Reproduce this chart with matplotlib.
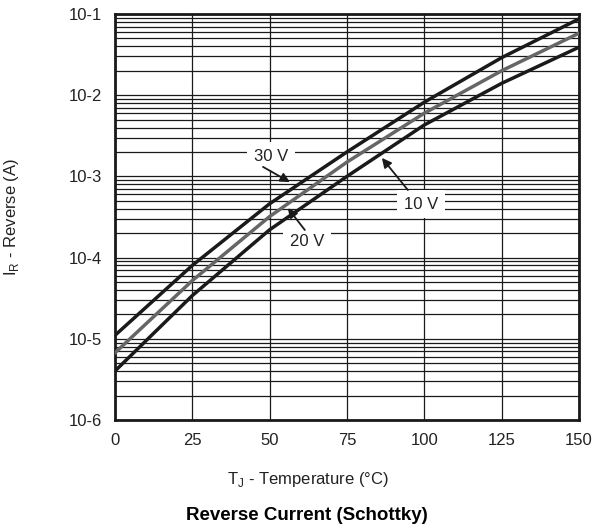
import matplotlib
matplotlib.use("Agg")
import matplotlib.pyplot as plt
import numpy as np
from matplotlib.ticker import LogLocator, NullFormatter, FixedLocator

plt.rcParams['font.family'] = ['Liberation Sans', 'DejaVu Sans']

# junction temperature (C) and reverse current (A)
temps = [0, 25, 50, 75, 100, 125, 150]
ir_30v = [1.1e-5, 8.0e-5, 4.6e-4, 2.0e-3, 8.2e-3, 2.9e-2, 8.7e-2]
ir_20v = [6.7e-6, 5.2e-5, 3.2e-4, 1.5e-3, 6.0e-3, 2.0e-2, 5.8e-2]
ir_10v = [4.0e-6, 3.4e-5, 2.2e-4, 1.0e-3, 4.3e-3, 1.4e-2, 3.9e-2]

xticks = [0, 25, 50, 75, 100, 125, 150]
yticks = [1e-6, 1e-5, 1e-4, 1e-3, 1e-2, 1e-1]
ytick_labels = ['10-6', '10-5', '10-4', '10-3', '10-2', '10-1']

fig = plt.figure(figsize=(5.92, 5.29), dpi=100)
ax = fig.add_axes([0.194, 0.206, 0.784, 0.7675])

ax.set_yscale('log')
ax.set_xlim(0, 150)
ax.set_ylim(1e-6, 1e-1)

# grid: every decade sub-division, and every 25 C
ax.yaxis.set_major_locator(FixedLocator(yticks))
ax.yaxis.set_minor_locator(LogLocator(base=10, subs=np.arange(2, 10)))
ax.yaxis.set_minor_formatter(NullFormatter())
ax.set_yticks(yticks)
ax.set_yticklabels(ytick_labels)
ax.set_xticks(xticks)
ax.grid(True, which='both', axis='y', color='#1a1a1a', lw=0.9)
ax.grid(True, which='major', axis='x', color='#1a1a1a', lw=0.9)
ax.tick_params(which='both', length=0, labelsize=12, pad=9, colors='#222222')
for sp in ax.spines.values():
    sp.set_linewidth(2.0)
    sp.set_color('#1a1a1a')

ax.plot(temps, ir_30v, color='#1a1a1a', lw=2.5, zorder=3)
ax.plot(temps, ir_20v, color='#666666', lw=2.5, zorder=3)
ax.plot(temps, ir_10v, color='#1a1a1a', lw=2.5, zorder=3)

# curve labels, white boxes hide the grid behind them
box = dict(boxstyle='square,pad=0.4', facecolor='white', edgecolor='none')
arr = dict(arrowstyle='-|>', color='#1a1a1a', lw=1.3, mutation_scale=14, shrinkA=0, shrinkB=0)
labels = [('30 V', (50.4, 1.78e-3), (47.9, 1.31e-3), (56.6, 8.5e-4)),
          ('20 V', (62.1, 1.6e-4), (61.4, 2.19e-4), (55.9, 4.08e-4)),
          ('10 V', (98.9, 4.57e-4), (94.7, 6.8e-4), (86.3, 1.69e-3))]
for txt, pos, start, tip in labels:
    ax.text(pos[0], pos[1], txt, fontsize=12, ha='center', va='center',
            bbox=box, zorder=4, color='#222222')
    ax.annotate('', xy=tip, xytext=start, arrowprops=arr, zorder=5)

ax.set_xlabel('T$_\\mathregular{J}$ - Temperature (°C)', fontsize=12, color='#222222')
ax.xaxis.set_label_coords((308 - 115) / 464, -(470 - 420) / 406)
ax.set_ylabel('I$_\\mathregular{R}$ - Reverse (A)', fontsize=12, color='#222222')
ax.yaxis.set_label_coords(-(115 - 21) / 464, 0.5)
fig.text(307 / 592, 1 - 515 / 529, 'Reverse Current (Schottky)', fontsize=13.5,
         fontweight='bold', ha='center', va='center')

fig.savefig('out.png', dpi=100)
